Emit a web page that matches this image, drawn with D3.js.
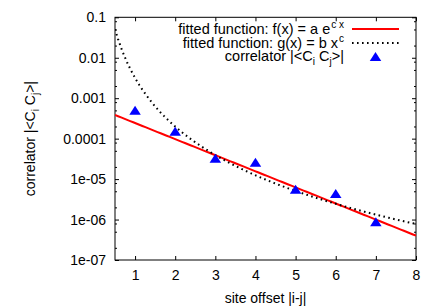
<!DOCTYPE html>
<meta charset="utf-8">
<style>
body { margin: 0; background: #fff; }
svg { font-family: "Liberation Sans", Arial, sans-serif; font-size: 14px; }
.axis path.domain { display: none; }
.axis line { stroke: #000; stroke-width: 1px; }
.axis text { fill: #000; font-size: 14px; font-family: "Liberation Sans", Arial, sans-serif; }
.frame { fill: none; stroke: #000; stroke-width: 1px; }
.fit-exp { fill: none; stroke: #ff0000; stroke-width: 2px; clip-path: url(#clip); }
.fit-pow { fill: none; stroke: #000; stroke-width: 2px; stroke-dasharray: 1.6,3.4; clip-path: url(#clip); }
.pt { fill: #0000ff; }
.key { font-size: 14.5px; }
</style>
<svg width="438" height="307"></svg>
<script src="https://d3js.org/d3.v7.min.js"></script>
<script>

// data
var offsets = [1, 2, 3, 4, 5, 6, 7];
var correlator = [5.05e-4, 1.52e-4, 3.27e-5, 2.62e-5, 5.62e-6, 4.41e-6, 8.8e-7];

// fit parameters: f(x) = a e^(c x), g(x) = b x^c
var expA = 6.08e-4, expC = -0.916;
var powB = 3.18e-3, powC = -4.0;

var xTicks = [1, 2, 3, 4, 5, 6, 7, 8];
var yTicks = [0.1, 0.01, 0.001, 0.0001, 1e-5, 1e-6, 1e-7];
var yTickLabels = ["0.1", "0.01", "0.001", "0.0001", "1e-05", "1e-06", "1e-07"];
var minorMultipliers = [2, 5, 8];

var svg = d3.select("svg"),
    plotL = 115, plotR = 416, plotT = 17.3, plotB = 260;

var x = d3.scaleLinear().domain([0.5, 8]).range([plotL, plotR]),
    y = d3.scaleLog().domain([1e-7, 0.1]).range([plotB, plotT]);

var yMinor = [];
yTicks.slice(1).forEach(function(d) {
  minorMultipliers.forEach(function(m) { yMinor.push(d * m); });
});

svg.append("defs").append("clipPath")
    .attr("id", "clip")
  .append("rect")
    .attr("x", plotL).attr("y", plotT)
    .attr("width", plotR - plotL).attr("height", plotB - plotT);

// axes (ticks pointing inwards, mirrored on top and right)
svg.append("g").attr("class", "axis")
    .attr("transform", "translate(0," + plotB + ")")
    .call(d3.axisBottom(x).tickValues(xTicks).tickSizeInner(-4).tickSizeOuter(0).tickPadding(10).tickFormat(d3.format("d")));

svg.append("g").attr("class", "axis")
    .attr("transform", "translate(0," + plotT + ")")
    .call(d3.axisTop(x).tickValues(xTicks).tickSizeInner(-4).tickSizeOuter(0).tickFormat(""));

svg.append("g").attr("class", "axis")
    .attr("transform", "translate(" + plotL + ",0)")
    .call(d3.axisLeft(y).tickValues(yTicks).tickSizeInner(-4).tickSizeOuter(0).tickPadding(9)
      .tickFormat(function(d, i) { return yTickLabels[i]; }));

svg.append("g").attr("class", "axis")
    .attr("transform", "translate(" + plotL + ",0)")
    .call(d3.axisLeft(y).tickValues(yMinor).tickSizeInner(-2).tickSizeOuter(0).tickFormat(""));

svg.append("g").attr("class", "axis")
    .attr("transform", "translate(" + plotR + ",0)")
    .call(d3.axisRight(y).tickValues(yTicks).tickSizeInner(-4).tickSizeOuter(0).tickFormat(""));

svg.append("g").attr("class", "axis")
    .attr("transform", "translate(" + plotR + ",0)")
    .call(d3.axisRight(y).tickValues(yMinor).tickSizeInner(-2).tickSizeOuter(0).tickFormat(""));

svg.append("rect").attr("class", "frame")
    .attr("x", plotL).attr("y", plotT)
    .attr("width", plotR - plotL).attr("height", plotB - plotT);

// fitted curves, sampled like gnuplot (100 samples)
var samples = d3.range(100).map(function(i) { return 0.5 + i * 7.5 / 99; });

var line = d3.line()
    .x(function(d) { return x(d[0]); })
    .y(function(d) { return y(d[1]); });

svg.append("path").attr("class", "fit-exp")
    .attr("d", line(samples.map(function(s) { return [s, expA * Math.exp(expC * s)]; })));

svg.append("path").attr("class", "fit-pow")
    .attr("d", line(samples.map(function(s) { return [s, powB * Math.pow(s, powC)]; })));

// triangles
var tri = "M0,-4.5L5.75,4.5L-5.75,4.5Z";
svg.selectAll(".pt")
    .data(offsets)
  .enter().append("path")
    .attr("class", "pt")
    .attr("d", tri)
    .attr("transform", function(d, i) { return "translate(" + x(d) + "," + y(correlator[i]) + ")"; });

// axis titles
svg.append("text")
    .attr("x", (plotL + plotR) / 2).attr("y", 303)
    .attr("text-anchor", "middle")
    .text("site offset |i-j|");

var yl = svg.append("text")
    .attr("transform", "translate(35," + (plotT + plotB) / 2 + ") rotate(-90)")
    .attr("text-anchor", "middle");
yl.append("tspan").text("correlator |<C");
yl.append("tspan").attr("font-size", 10).attr("dy", 4).text("i");
yl.append("tspan").attr("dy", -4).text(" C");
yl.append("tspan").attr("font-size", 10).attr("dy", 4).text("j");
yl.append("tspan").attr("dy", -4).text(">|");

// legend
var keyRight = 344, keyRows = [34, 47.5, 61];

var t1 = svg.append("text").attr("class", "key").attr("x", keyRight).attr("y", keyRows[0]).attr("text-anchor", "end");
t1.append("tspan").text("fitted function: f(x) = a e");
t1.append("tspan").attr("font-size", 10).attr("dx", 1).attr("dy", -6).text("c x");

var t2 = svg.append("text").attr("class", "key").attr("x", keyRight).attr("y", keyRows[1]).attr("text-anchor", "end");
t2.append("tspan").text("fitted function: g(x) = b x");
t2.append("tspan").attr("font-size", 10).attr("dx", 1).attr("dy", -6).text("c");

var t3 = svg.append("text").attr("class", "key").attr("x", keyRight).attr("y", keyRows[2]).attr("text-anchor", "end");
t3.append("tspan").text("correlator |<C");
t3.append("tspan").attr("font-size", 10).attr("dy", 4).text("i");
t3.append("tspan").attr("dy", -4).text(" C");
t3.append("tspan").attr("font-size", 10).attr("dy", 4).text("j");
t3.append("tspan").attr("dy", -4).text(">|");

svg.append("line").attr("class", "fit-exp").style("clip-path", "none")
    .attr("x1", 352).attr("x2", 399).attr("y1", keyRows[0] - 5).attr("y2", keyRows[0] - 5);
svg.append("line").attr("class", "fit-pow").style("clip-path", "none")
    .attr("x1", 352).attr("x2", 399).attr("y1", keyRows[1] - 4.5).attr("y2", keyRows[1] - 4.5);
svg.append("path").attr("class", "pt").attr("d", tri)
    .attr("transform", "translate(375.5," + (keyRows[2] - 4.5) + ")");

</script>
